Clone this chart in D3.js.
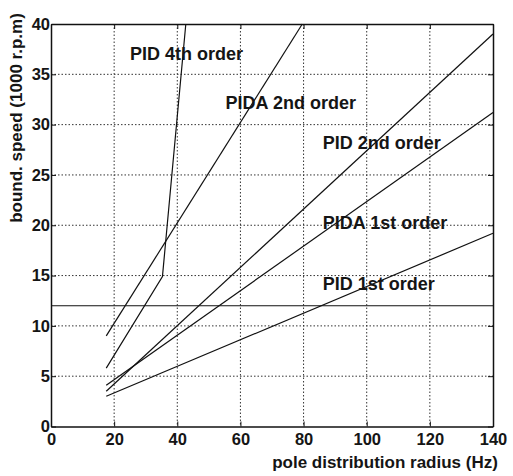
<!DOCTYPE html>
<html>
<head>
<meta charset="utf-8">
<script src="https://cdn.jsdelivr.net/npm/d3@7"></script>
<style>
  html, body { margin: 0; background: #fff; overflow: hidden; }
  svg { display: block; }
  text { font-family: "Liberation Sans", Arial, sans-serif; fill: #151515; font-weight: bold; }
</style>
</head>
<body>
<div id="chart"></div>
<script>
// values
const xTicks = [0, 20, 40, 60, 80, 100, 120, 140];
const yTicks = [0, 5, 10, 15, 20, 25, 30, 35, 40];

const pid4Radius = [17.5, 35.3, 42.7];
const pid4Speed = [5.8, 14.9, 40];
const pida2Radius = [17.5, 79.6];
const pida2Speed = [9.0, 40];
const pid2Radius = [17.5, 140];
const pid2Speed = [3.5, 39.0];
const pida1Radius = [17.5, 140];
const pida1Speed = [4.1, 31.2];
const pid1Radius = [17.5, 140];
const pid1Speed = [3.0, 19.2];
const limitSpeed = 12;

const seriesNames = ["PID 4th order", "PIDA 2nd order", "PID 2nd order", "PIDA 1st order", "PID 1st order"];
const labelAt = [[25.0, 36.4], [55.3, 31.6], [86.1, 27.6], [86.1, 19.6], [86.1, 13.6]];

const width = 513, height = 476;
const margin = { top: 24, right: 20, bottom: 49.5, left: 51 };
const innerWidth = width - margin.left - margin.right;
const innerHeight = height - margin.top - margin.bottom;

const series = [
  d3.zip(pid4Radius, pid4Speed),
  d3.zip(pida2Radius, pida2Speed),
  d3.zip(pid2Radius, pid2Speed),
  d3.zip(pida1Radius, pida1Speed),
  d3.zip(pid1Radius, pid1Speed)
];

const xScale = d3.scaleLinear().domain([0, 140]).range([0, innerWidth]);
const yScale = d3.scaleLinear().domain([0, 40]).range([innerHeight, 0]);

const svg = d3.select("#chart")
  .append("svg")
    .attr("width", width)
    .attr("height", height);

svg.append("rect")
  .attr("width", width)
  .attr("height", height)
  .attr("fill", "#fff");

const g = svg.append("g")
  .attr("transform", `translate(${margin.left}, ${margin.top})`);

// dotted grid
g.selectAll("line.gx")
  .data(xTicks.slice(1, -1))
  .join("line")
    .attr("class", "gx")
    .attr("x1", d => xScale(d)).attr("x2", d => xScale(d))
    .attr("y1", 0).attr("y2", innerHeight)
    .attr("stroke", "#333")
    .attr("stroke-width", 1)
    .attr("stroke-dasharray", "1.5,2");

g.selectAll("line.gy")
  .data(yTicks.slice(1, -1))
  .join("line")
    .attr("class", "gy")
    .attr("y1", d => yScale(d)).attr("y2", d => yScale(d))
    .attr("x1", 0).attr("x2", innerWidth)
    .attr("stroke", "#333")
    .attr("stroke-width", 1)
    .attr("stroke-dasharray", "1.5,2");

// axes with inward ticks
const xAxis = g.append("g")
  .attr("transform", `translate(0, ${innerHeight})`)
  .call(d3.axisBottom(xScale).tickValues(xTicks).tickSizeInner(-5).tickSizeOuter(0).tickPadding(7));
const yAxis = g.append("g")
  .call(d3.axisLeft(yScale).tickValues(yTicks).tickSizeInner(-5).tickSizeOuter(0).tickPadding(1));
const xTop = g.append("g")
  .call(d3.axisTop(xScale).tickValues(xTicks).tickSizeInner(-5).tickSizeOuter(0).tickFormat(""));
const yRight = g.append("g")
  .attr("transform", `translate(${innerWidth}, 0)`)
  .call(d3.axisRight(yScale).tickValues(yTicks).tickSizeInner(-5).tickSizeOuter(0).tickFormat(""));

[xAxis, yAxis, xTop, yRight].forEach(a => {
  a.select(".domain").attr("stroke", "#111").attr("stroke-width", 1.5);
  a.selectAll(".tick line").attr("stroke", "#111");
});
[xAxis, yAxis].forEach(a => {
  a.selectAll(".tick text")
    .style("font-size", "16.5px")
    .style("font-family", "'Liberation Sans', Arial, sans-serif")
    .style("font-weight", "bold")
    .attr("fill", "#151515");
});

// speed limit line
g.append("line")
  .attr("x1", xScale(0)).attr("x2", xScale(140))
  .attr("y1", yScale(limitSpeed)).attr("y2", yScale(limitSpeed))
  .attr("stroke", "#111")
  .attr("stroke-width", 1.2);

// curves
const line = d3.line()
  .x(d => xScale(d[0]))
  .y(d => yScale(d[1]));

g.selectAll("path.curve")
  .data(series)
  .join("path")
    .attr("class", "curve")
    .attr("d", line)
    .attr("fill", "none")
    .attr("stroke", "#111")
    .attr("stroke-width", 1.2);

// curve labels
g.selectAll("text.lbl")
  .data(seriesNames)
  .join("text")
    .attr("class", "lbl")
    .text(d => d)
    .attr("x", (d, i) => xScale(labelAt[i][0]))
    .attr("y", (d, i) => yScale(labelAt[i][1]))
    .style("font-size", "18px");

// axis titles
svg.append("text")
  .text("pole distribution radius (Hz)")
  .attr("x", 385)
  .attr("y", 467.5)
  .attr("text-anchor", "middle")
  .style("font-size", "17px");

svg.append("text")
  .text("bound. speed (1000 r.p.m)")
  .attr("transform", "translate(21.5, 118) rotate(-90)")
  .attr("text-anchor", "middle")
  .style("font-size", "17px");
</script>
</body>
</html>
